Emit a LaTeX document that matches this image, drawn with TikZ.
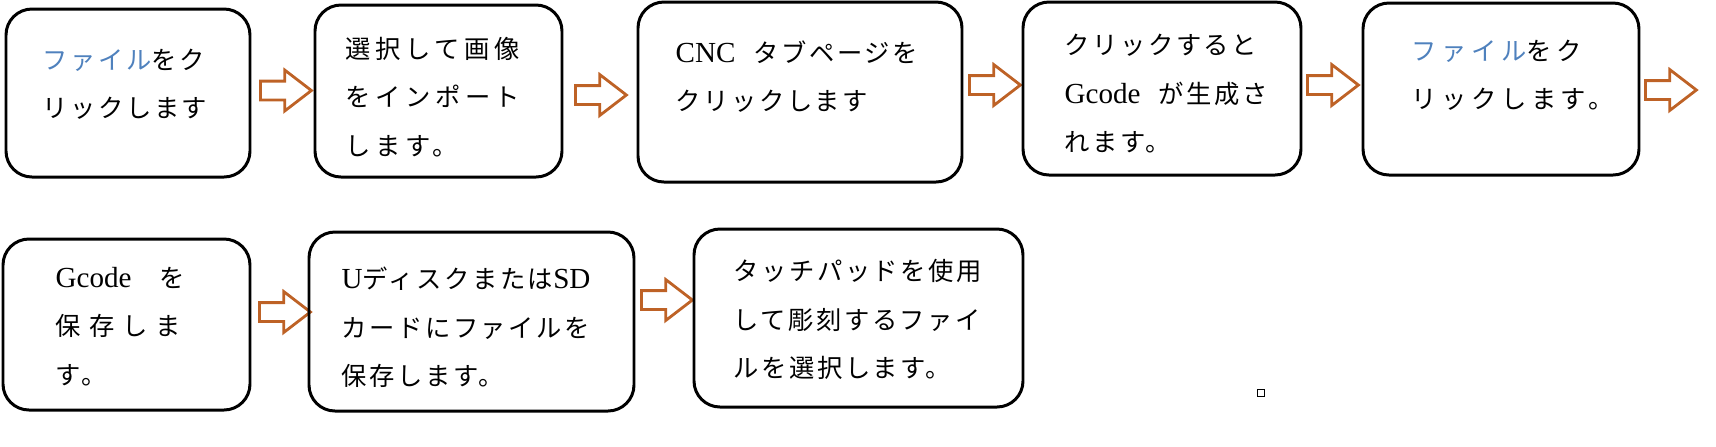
\documentclass[tikz,border=0pt]{standalone}
\usepackage{fontspec}
\setmainfont{Liberation Serif}[Scale=1.15]
\newfontfamily\jpfont[LetterSpace=10]{Noto Sans CJK JP}
\newfontfamily\jpwidefont[LetterSpace=18]{Noto Sans CJK JP}
\usetikzlibrary{shapes.arrows}
\newcommand{\jp}[1]{{\jpfont #1}}
\newcommand{\jpw}[1]{{\jpwidefont #1}}
\tikzset{box/.style = {draw, line width = 0.85pt, rounded corners = 0.26cm, inner sep = 0}}
\tikzset{txt/.style = {align = left, inner sep = 0, font = \fontsize{7.2}{13.8}\selectfont}}
\tikzset{harrow/.style = {single arrow, draw = morange, line width = 0.8pt,
                          inner xsep = 0, inner ysep = 0.08cm,
                          single arrow head extend = 0.11cm, single arrow tip angle = 75,
                          minimum height = 0.51cm, anchor = tail}}
\definecolor{mblue}{RGB}{79, 129, 189}
\definecolor{morange}{RGB}{190, 98, 38}

\begin{document}
\begin{tikzpicture}
    \useasboundingbox (0, 0) rectangle (17.16, -4.46);

    \node [box, minimum width = 2.44cm, minimum height = 1.68cm] (b1) at (1.28, -0.93) {};
    \node (t1) at (0.42, -0.84) [txt, right] {\textcolor{mblue}{\jp{ファイル}}\jp{をク}\\\jp{リックします}};
    \node [harrow] (a1) at (2.59, -0.905) {};

    \node [box, minimum width = 2.47cm, minimum height = 1.72cm] (b2) at (4.385, -0.91) {};
    \node (t2) at (3.45, -0.97) [txt, right] {\jpw{選択して画像}\\\jpw{をインポート}\\\jpw{します。}};
    \node [harrow] (a2) at (5.74, -0.95) {};

    \node [box, minimum width = 3.24cm, minimum height = 1.80cm] (b3) at (8.00, -0.92) {};
    \node (t3) at (6.75, -0.765) [txt, right] {CNC\hspace{0.18cm}\jp{タブページを}\\\jp{クリックします}};
    \node [harrow] (a3) at (9.68, -0.85) {};

    \node [box, minimum width = 2.78cm, minimum height = 1.73cm] (b4) at (11.62, -0.885) {};
    \node (t4) at (10.64, -0.94) [txt, right] {\jp{クリックすると}\\Gcode\hspace{0.18cm}\jp{が生成さ}\\\jp{れます。}};
    \node [harrow] (a4) at (13.06, -0.85) {};

    \node [box, minimum width = 2.76cm, minimum height = 1.72cm] (b5) at (15.01, -0.89) {};
    \node (t5) at (14.11, -0.75) [txt, right] {\textcolor{mblue}{\jpw{ファイル}}\jpw{をク}\\\jpw{リックします。}};
    \node [harrow] (a5) at (16.44, -0.90) {};

    \node [box, minimum width = 2.47cm, minimum height = 1.71cm] (b6) at (1.265, -3.245) {};
    \node (t6) at (0.55, -3.265) [txt, right] {Gcode\jp{　を}\\\jp{保\hspace{0.08cm}存\hspace{0.08cm}し\hspace{0.08cm}ま}\\\jp{す。}};
    \node [harrow] (a6) at (2.58, -3.12) {};

    \node [box, minimum width = 3.25cm, minimum height = 1.79cm] (b7) at (4.715, -3.215) {};
    \node (t7) at (3.41, -3.275) [txt, right] {U\jp{ディスクまたは}SD\\\jp{カードにファイルを}\\\jp{保存します。}};
    \node [harrow] (a7) at (6.40, -3.00) {};

    \node [box, minimum width = 3.29cm, minimum height = 1.78cm] (b8) at (8.585, -3.18) {};
    \node (t8) at (7.33, -3.195) [txt, right] {\jp{タッチパッドを使用}\\\jp{して彫刻するファイ}\\\jp{ルを選択します。}};

    \draw [line width = 0.4pt] (12.575, -3.895) rectangle +(0.07, -0.07);

  \end{tikzpicture}
\end{document}
